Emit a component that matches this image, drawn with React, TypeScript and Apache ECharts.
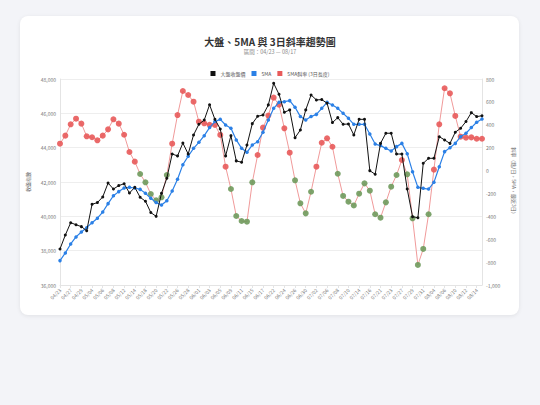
import React, { useEffect, useRef } from "react";
import * as echarts from "echarts";

const dates = [
  "04/23", "04/24", "04/27", "04/28", "04/29", "04/30", "05/04", "05/05", "05/06", "05/07",
  "05/08", "05/11", "05/12", "05/13", "05/14", "05/15", "05/18", "05/19", "05/20", "05/21",
  "05/22", "05/25", "05/26", "05/27", "05/28", "05/29", "06/01", "06/02", "06/03", "06/04",
  "06/05", "06/08", "06/09", "06/10", "06/11", "06/12", "06/15", "06/16", "06/17", "06/18",
  "06/22", "06/23", "06/24", "06/25", "06/26", "06/29", "06/30", "07/01", "07/02", "07/03",
  "07/06", "07/07", "07/08", "07/09", "07/10", "07/13", "07/14", "07/15", "07/16", "07/17",
  "07/21", "07/22", "07/23", "07/24", "07/27", "07/28", "07/29", "07/30", "07/31", "08/03",
  "08/04", "08/05", "08/06", "08/07", "08/10", "08/11", "08/12", "08/13", "08/14", "08/17",
];

const closeValues = [
  38100, 38910, 39630, 39510, 39400, 39160, 40700, 40800, 41130, 41940,
  41590, 41790, 41900, 41360, 41690, 41110, 40880, 40220, 40000, 41340,
  42220, 43630, 43520, 44270, 43630, 44740, 45360, 45610, 46500, 45650,
  45090, 43520, 44700, 43230, 43150, 44150, 45400, 45830, 45900, 46490,
  47750, 47110, 46060, 46200, 44580, 45030, 46200, 47070, 46780, 46800,
  46590, 45460, 45750, 45360, 45380, 44740, 45650, 45650, 42660, 42450,
  44250, 44840, 44840, 43630, 43630, 41590, 39980, 39920, 43090, 43380,
  43380, 44640, 44450, 44250, 44900, 45130, 45520, 46040, 45810, 45860,
];

const ma5Values = [
  37420, 37870, 38390, 38800, 39090, 39340, 39630, 39890, 40250, 40740,
  41200, 41440, 41650, 41690, 41650, 41570, 41340, 41050, 40800, 40660,
  40910, 41480, 42160, 43010, 43500, 43960, 44310, 44700, 45170, 45520,
  45650, 45320, 45130, 44450, 43960, 43730, 44160, 44350, 44900, 45610,
  46290, 46640, 46680, 46740, 46350, 45810, 45610, 45810, 45940, 46290,
  46640, 46490, 46290, 46000, 45710, 45360, 45360, 45360, 44800, 44210,
  44120, 43960, 43810, 44060, 44250, 43650, 42600, 41690, 41630, 41590,
  41980, 42890, 43770, 44000, 44250, 44640, 44840, 45170, 45480, 45670,
];

const slopeValues = [
  235, 305, 404, 453, 410, 299, 291, 264, 305, 360,
  448, 410, 313, 162, 78, -30, -103, -205, -260, -234,
  -39, 235, 485, 695, 660, 602, 427, 413, 400, 398,
  311, 34, -161, -397, -441, -447, -103, 136, 375, 480,
  637, 575, 369, 156, -85, -286, -374, -185, 34, 243,
  282, 208, -28, -222, -272, -305, -202, -112, -176, -382,
  -412, -278, -141, -39, 92, -33, -417, -825, -685, -382,
  8, 404, 719, 675, 477, 296, 287, 290, 278, 278,
];

const FF = '"Noto Sans CJK TC", "Noto Sans", sans-serif';
const BLACK = "#111111";
const BLUE = "#2b80e6";
const RED = "#e85a5a";
const GREEN = "#6f9a5c";

export default function App() {
  const ref = useRef<HTMLDivElement>(null);

  useEffect(() => {
    document.body.style.margin = "0";
    document.body.style.background = "#f3f4f8";
    const chart = echarts.init(ref.current!, undefined, { renderer: "svg" });
    const fmt = (v: number) => v.toLocaleString("en-US");
    chart.setOption({
      animation: false,
      textStyle: { fontFamily: FF },
      title: {
        text: "大盤、5MA 與 3日斜率趨勢圖",
        subtext: "區間：04/23 — 08/17",
        left: "center",
        top: 31,
        itemGap: 3,
        textStyle: { fontSize: 10, fontWeight: "bold", color: "#333", fontFamily: FF },
        subtextStyle: { fontSize: 5.5, color: "#888", fontFamily: FF },
      },
      legend: {
        top: 66,
        left: "center",
        icon: "rect",
        itemWidth: 5,
        itemHeight: 5,
        itemGap: 6,
        textStyle: { fontSize: 5, color: "#555", fontFamily: FF },
        data: [
          { name: "大盤收盤價", itemStyle: { color: BLACK } },
          { name: "5MA", itemStyle: { color: BLUE } },
          { name: "5MA斜率 (3日長度)", itemStyle: { color: RED } },
        ],
      },
      grid: { left: 60, right: 58, top: 79, bottom: 120 },
      xAxis: {
        type: "category",
        data: dates,
        boundaryGap: false,
        axisLine: { onZero: false, lineStyle: { color: "#e4e4e4" } },
        axisTick: { show: true, interval: 1, length: 3, lineStyle: { color: "#e4e4e4" } },
        axisLabel: { interval: 1, rotate: 45, fontSize: 5, color: "#777", margin: 4, fontFamily: FF },
        splitLine: { show: false },
      },
      yAxis: [
        {
          type: "value",
          min: 36000,
          max: 48000,
          interval: 2000,
          name: "收盤指數",
          nameLocation: "middle",
          nameGap: 24,
          nameTextStyle: { fontSize: 5, color: "#666", fontFamily: FF },
          axisLine: { show: true, lineStyle: { color: "#e4e4e4" } },
          axisTick: { show: false },
          axisLabel: { fontSize: 5, color: "#777", margin: 4, formatter: fmt, fontFamily: FF },
          splitLine: { show: true, lineStyle: { color: "#eeeeee", width: 1 } },
        },
        {
          type: "value",
          position: "right",
          min: -1000,
          max: 800,
          interval: 200,
          name: "斜率（點/日，5MA，最近3日）",
          nameLocation: "middle",
          nameRotate: -90,
          nameGap: 30,
          nameTextStyle: { fontSize: 5, color: "#666", fontFamily: FF },
          axisLine: { show: true, lineStyle: { color: "#e4e4e4" } },
          axisTick: { show: false },
          axisLabel: { fontSize: 5, color: "#777", margin: 4, formatter: fmt, fontFamily: FF },
          splitLine: { show: false },
        },
      ],
      series: [
        {
          name: "大盤收盤價",
          type: "line",
          yAxisIndex: 0,
          data: closeValues,
          symbol: "circle",
          symbolSize: 3,
          showAllSymbol: true,
          itemStyle: { color: BLACK },
          lineStyle: { width: 1, color: BLACK },
          emphasis: { disabled: true },
          z: 4,
        },
        {
          name: "5MA",
          type: "line",
          yAxisIndex: 0,
          data: ma5Values,
          symbol: "circle",
          symbolSize: 3.5,
          showAllSymbol: true,
          itemStyle: { color: BLUE },
          lineStyle: { width: 1.2, color: BLUE },
          emphasis: { disabled: true },
          z: 3,
        },
        {
          name: "5MA斜率 (3日長度)",
          type: "line",
          yAxisIndex: 1,
          data: slopeValues.map((v) => ({
            value: v,
            itemStyle: { color: v < 0 ? GREEN : RED, opacity: 0.9 },
          })),
          symbol: "circle",
          symbolSize: 6,
          showAllSymbol: true,
          itemStyle: { color: RED },
          lineStyle: { width: 1, color: "#f09a9a" },
          emphasis: { disabled: true },
          z: 2,
        },
      ],
    });
    return () => chart.dispose();
  }, []);

  return (
    <div style={{ position: "fixed", left: 0, top: 0, width: 540, height: 405, background: "#f3f4f8" }}>
      <div
        style={{
          position: "absolute",
          left: 20,
          top: 16,
          width: 499,
          height: 299,
          background: "#ffffff",
          borderRadius: 8,
          boxShadow: "0 1px 4px rgba(0,0,0,0.08)",
        }}
      />
      <div ref={ref} style={{ position: "absolute", left: 0, top: 0, width: 540, height: 405 }} />
    </div>
  );
}
